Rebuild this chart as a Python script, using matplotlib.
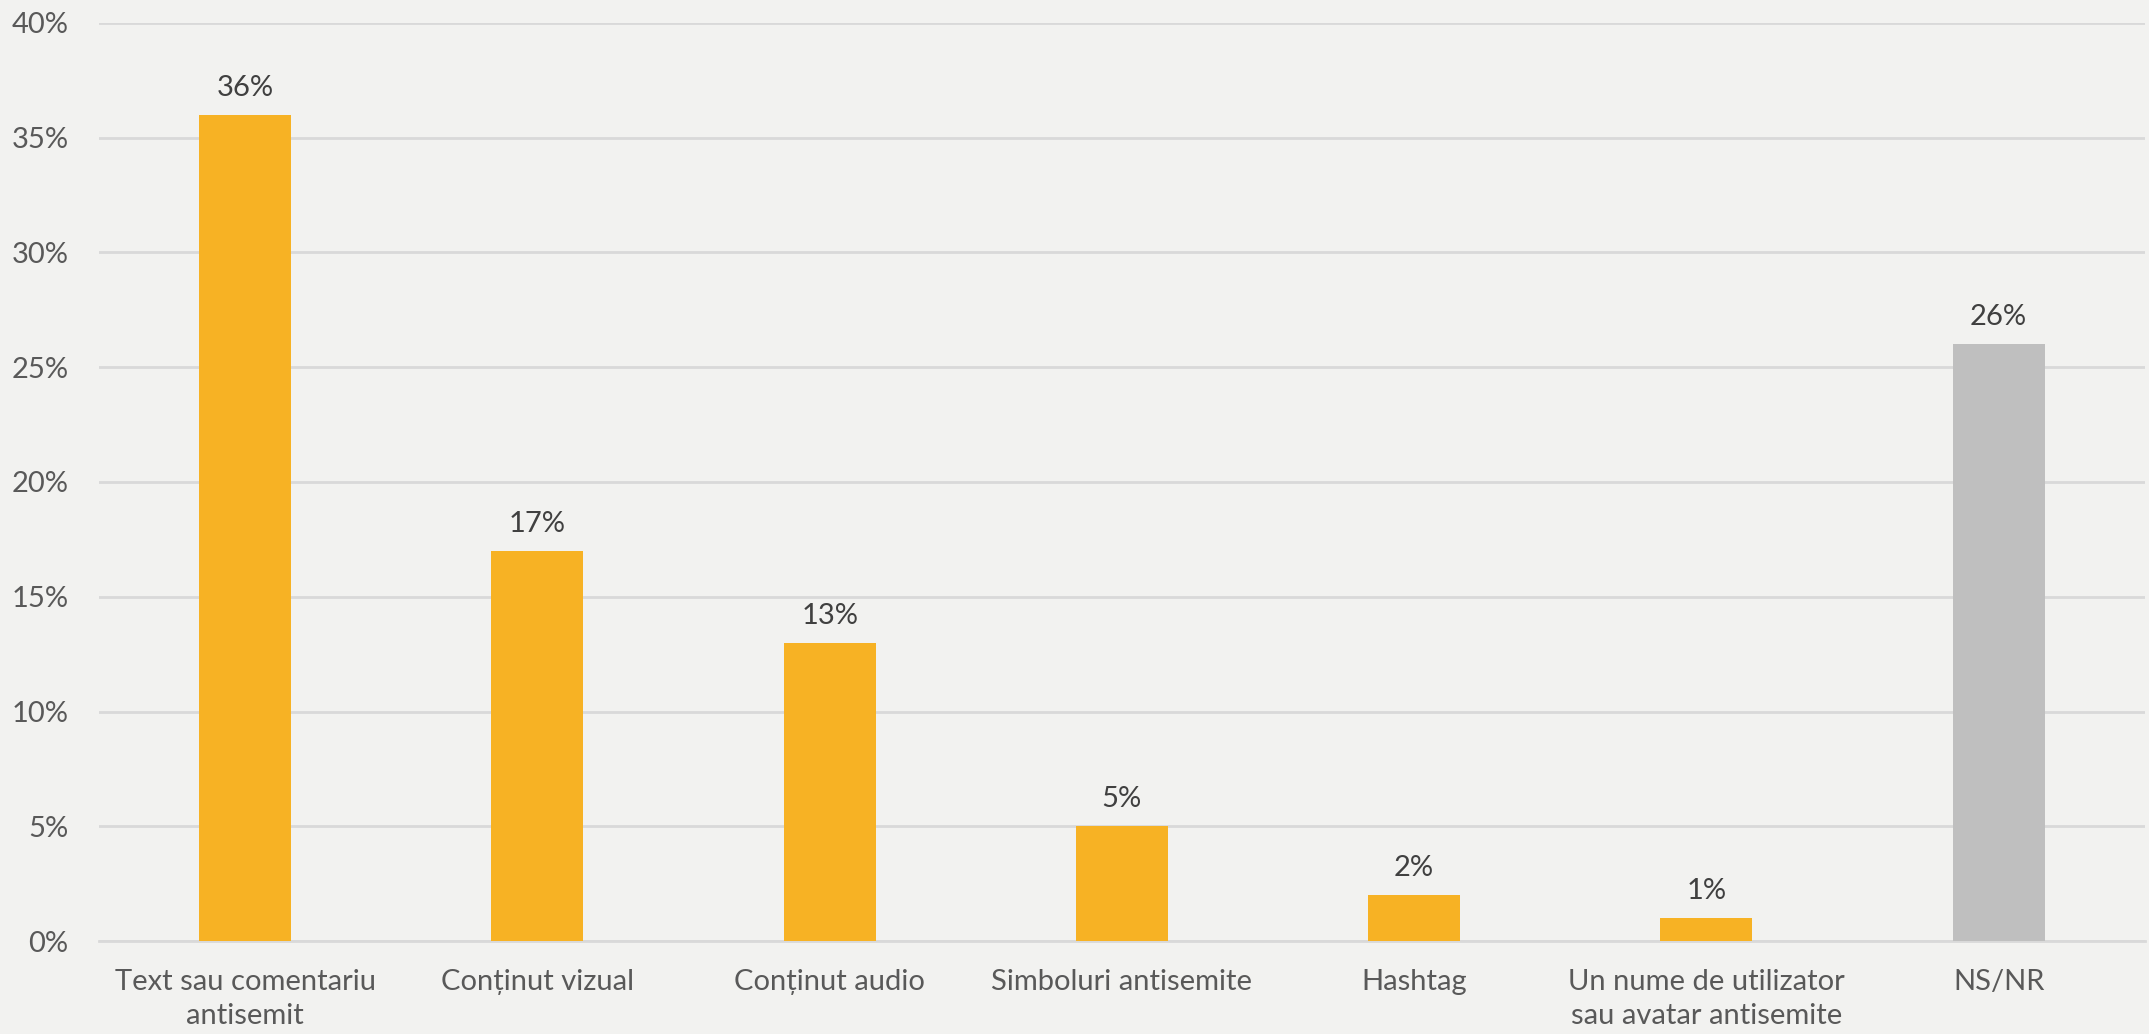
import matplotlib
matplotlib.use("Agg")
import matplotlib.pyplot as plt
from matplotlib.ticker import FuncFormatter

categories = ["Text sau comentariu\nantisemit", "Conținut vizual", "Conținut audio",
              "Simboluri antisemite", "Hashtag", "Un nume de utilizator\nsau avatar antisemite", "NS/NR"]
values = [36, 17, 13, 5, 2, 1, 26]
colors = ["#F7B224"] * 6 + ["#BFBFBF"]

plt.rcParams['font.family'] = ['Lato', 'DejaVu Sans']
bg = "#F2F2F0"
txt = "#595959"

fig = plt.figure(figsize=(21.49, 10.34), dpi=100, facecolor=bg)
ax = fig.add_axes([0.0461, 0.0899, 0.9519, 0.8879], facecolor=bg)

x = range(len(categories))
bars = ax.bar(x, values, width=0.315, color=colors, zorder=3)
for xi, v in zip(x, values):
    ax.annotate(f"{v}%", (xi, v), xytext=(0, 10), textcoords="offset points",
                ha="center", va="bottom", fontsize=21, color="#404040")

ax.set_ylim(0, 40)
ax.set_xlim(-0.5, len(categories) - 0.5)
ax.set_yticks(range(0, 41, 5))
ax.yaxis.set_major_formatter(FuncFormatter(lambda v, p: f"{int(v)}%"))
ax.grid(axis="y", color="#D9D9D9", linewidth=2, zorder=0)
ax.set_xticks(list(x))
ax.set_xticklabels(categories, fontsize=21, color=txt, linespacing=1.4)
ax.tick_params(axis="y", labelsize=21, labelcolor=txt, length=0, pad=22)
ax.tick_params(axis="x", length=0, pad=20)
for s in ["top", "right", "left"]:
    ax.spines[s].set_visible(False)
ax.spines["bottom"].set_color("#D9D9D9")
ax.spines["bottom"].set_linewidth(2)

fig.savefig("out.png", dpi=100, facecolor=bg)
